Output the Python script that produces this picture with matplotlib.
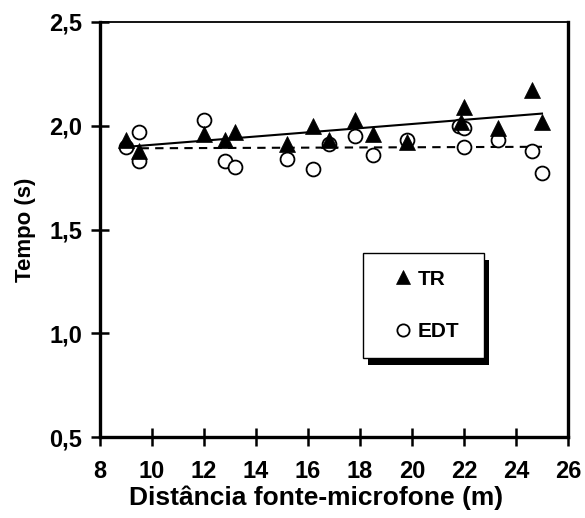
import numpy as np
import matplotlib
matplotlib.use("Agg")
import matplotlib.pyplot as plt
from matplotlib.patches import Rectangle
from matplotlib.transforms import IdentityTransform

# Distance source-microphone (m) and measured times (s)
tr_dist = [9.0, 9.5, 12.0, 12.8, 13.2, 15.2, 16.2, 16.8, 17.8, 18.5, 19.8, 21.9, 22.0, 23.3, 24.6, 25.0]
tr_time = [1.93, 1.88, 1.96, 1.93, 1.97, 1.91, 2.00, 1.93, 2.03, 1.96, 1.92, 2.02, 2.09, 1.99, 2.17, 2.02]

edt_dist = [9.0, 9.5, 9.5, 12.0, 12.8, 13.2, 15.2, 16.2, 16.8, 17.8, 18.5, 19.8, 21.8, 22.0, 22.0, 23.3, 24.6, 25.0]
edt_time = [1.90, 1.97, 1.83, 2.03, 1.83, 1.80, 1.84, 1.79, 1.91, 1.95, 1.86, 1.93, 2.00, 1.99, 1.90, 1.93, 1.88, 1.77]

x_ticks = [8, 10, 12, 14, 16, 18, 20, 22, 24, 26]
y_ticks = [0.5, 1.0, 1.5, 2.0, 2.5]
y_tick_labels = ["0,5", "1,0", "1,5", "2,0", "2,5"]

plt.rcParams["font.family"] = ["Liberation Sans", "DejaVu Sans"]
plt.rcParams["font.weight"] = "bold"

fig = plt.figure(figsize=(5.85, 5.18), dpi=100)
ax = fig.add_axes([100 / 585, 81 / 518, 468 / 585, 415 / 518])

# linear trend lines over the measured range
def trend(xs, ys):
    xs = np.asarray(xs, float)
    ys = np.asarray(ys, float)
    b, a = np.polyfit(xs, ys, 1)
    xl = np.array([xs.min(), xs.max()])
    return xl, a + b * xl

xl, yl = trend(tr_dist, tr_time)
ax.plot(xl, yl, color="black", lw=1.5, zorder=2)
xl, yl = trend(edt_dist, edt_time)
ax.plot(xl, yl, color="black", lw=1.5, ls=(0, (4, 3)), zorder=2)

ax.plot(edt_dist, edt_time, ls="none", marker="o", ms=10, mfc="white",
        mec="black", mew=1.3, zorder=3, label="EDT")
ax.plot(tr_dist, tr_time, ls="none", marker="^", ms=11, mfc="black",
        mec="black", mew=0.5, zorder=4, label="TR")

ax.set_xlim(8, 26)
ax.set_ylim(0.5, 2.5)
ax.set_xticks(x_ticks)
ax.set_xticklabels([str(v) for v in x_ticks])
ax.set_yticks(y_ticks)
ax.set_yticklabels(y_tick_labels)

for side in ("left", "bottom", "right"):
    ax.spines[side].set_linewidth(2.4)
ax.spines["top"].set_linewidth(1.3)

ax.tick_params(axis="both", which="major", direction="inout", length=13,
               width=1.8, labelsize=17, top=False, right=False)
ax.tick_params(axis="x", pad=10)
ax.tick_params(axis="y", pad=6.5)

ax.set_xlabel("Distância fonte-microfone (m)", fontsize=19, fontweight="bold")
ax.xaxis.set_label_coords(0.4615, -0.118)
ax.set_ylabel("Tempo (s)", fontsize=16, fontweight="bold", labelpad=9)

handles, labels = ax.get_legend_handles_labels()
leg = ax.legend(handles[::-1], labels[::-1], loc="upper left",
                bbox_to_anchor=(263 / 468, 1 - 231 / 415, 121 / 468, 0),
                mode="expand", borderaxespad=0, fancybox=False,
                framealpha=1, edgecolor="black", frameon=True,
                borderpad=0.8, labelspacing=1.6, handlelength=2.2,
                handletextpad=-0.36, markerscale=0.88,
                prop={"size": 15, "weight": "bold"})
leg.get_frame().set_linewidth(1.0)
leg.set_zorder(6)

fig.canvas.draw()
bb = leg.get_window_extent()
shadow = Rectangle((bb.x0 + 5, bb.y0 - 7), bb.width, bb.height,
                   transform=IdentityTransform(), facecolor="black",
                   edgecolor="none", zorder=5.5)
ax.add_artist(shadow)

fig.savefig("out.png", dpi=100, facecolor="white")
